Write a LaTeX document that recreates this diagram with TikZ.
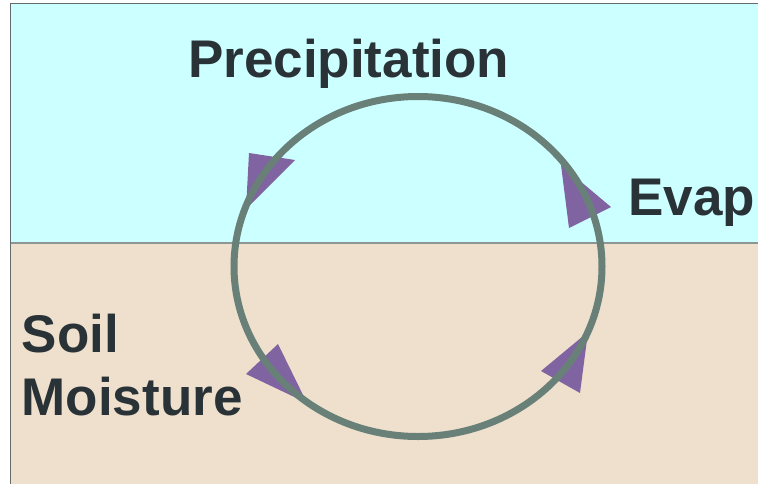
\documentclass[tikz,border=0pt]{standalone}
\usepackage{fontspec}
\setmainfont{Liberation Sans}
\definecolor{skyfill}{RGB}{204,255,255}
\definecolor{soilfill}{RGB}{238,224,204}
\definecolor{cyclegray}{RGB}{104,128,120}
\definecolor{headpurple}{RGB}{128,100,162}
\definecolor{labeltext}{RGB}{41,50,54}
\definecolor{framegray}{RGB}{100,108,108}
\definecolor{groundline}{RGB}{140,150,148}
\begin{document}
\begin{tikzpicture}[x=1pt,y=-1pt,
  cyclelabel/.style={font=\fontsize{53}{63}\selectfont\bfseries,text=labeltext,inner sep=0pt,anchor=base west},
  headfill/.style={fill=headpurple}]
\useasboundingbox (0,0) rectangle (758,483);
\clip (0,0) rectangle (758,483);
% sky and ground
\fill[skyfill] (10.5,3.5) rectangle (770,243);
\fill[soilfill] (10.5,243) rectangle (770,495);
\draw[groundline,line width=1.6pt] (10.5,243) -- (770,243);
\draw[framegray,line width=1.5pt] (770,3.5) -- (10.5,3.5) -- (10.5,495);
% arrow heads
\fill[headfill] (249,153) -- (295,160) -- (246,209) -- cycle;
\fill[headfill] (278,344) -- (246,374) -- (307,403) -- cycle;
\fill[headfill] (541,371) -- (580,393) -- (588,332) -- cycle;
\fill[headfill] (611,207) -- (569,228) -- (561,165) -- cycle;
% the cycle
\draw[cyclegray,line width=7pt] (418,266.5) ellipse [x radius=184pt,y radius=170pt];
% labels
\node[cyclelabel] (precip) at (188,77) {Precipitation};
\node[cyclelabel] (evap) at (628,215) {Evap};
\node[cyclelabel] (soil) at (21.5,352) {Soil};
\node[cyclelabel] (moisture) at (21.5,415) {Moisture};
\end{tikzpicture}
\end{document}
